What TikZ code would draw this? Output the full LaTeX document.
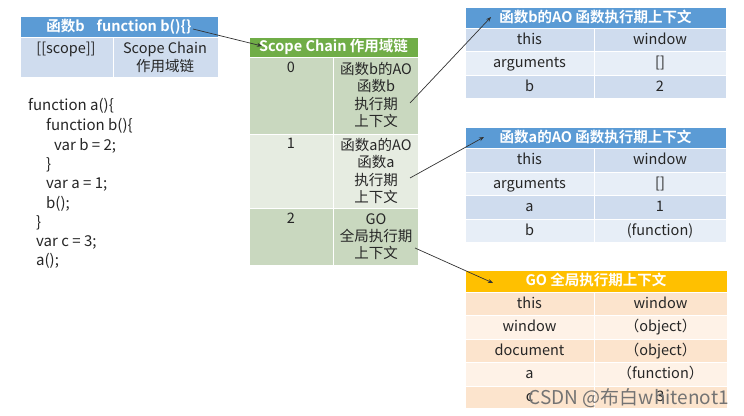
\documentclass[tikz,border=0pt]{standalone}
\usepackage{fontspec}
\setmainfont{Noto Sans CJK SC}[BoldFont={Noto Sans CJK SC Bold}]
\usetikzlibrary{arrows.meta}
\definecolor{bhead}{HTML}{5B9BD5}
\definecolor{bdark}{HTML}{CFDCEE}
\definecolor{blight}{HTML}{E7EEF7}
\definecolor{ghead}{HTML}{70AD47}
\definecolor{gdark}{HTML}{C9D8BF}
\definecolor{glight}{HTML}{E6ECE1}
\definecolor{ohead}{HTML}{FFC000}
\definecolor{odark}{HTML}{FCE4CD}
\definecolor{olight}{HTML}{FEF2E7}
\definecolor{txt}{HTML}{262626}
\newcommand\mkcell[7]{\node[cellbox,fill=#6,minimum width={(#4-#2)*1pt},minimum height={(#5-#3)*1pt}] (#1) at ({(#2+#4)/2},{(#3+#5)/2}) {#7};}
\begin{document}
\begin{tikzpicture}[x=1pt,y=-1pt,
  cellbox/.style={draw=white,line width=1pt,inner sep=0pt,text=txt,text height=11pt,text depth=1.5pt,font=\fontsize{14.5}{17}\selectfont},
  celltext/.style={text=txt,font=\fontsize{14.5}{17.3}\selectfont,align=center,inner sep=0pt,anchor=north},
  codetext/.style={text=txt,font=\fontsize{15}{17}\selectfont,anchor=west,inner sep=0pt},
  link/.style={draw=black!80,line width=0.7pt,-{Stealth[length=5pt,width=4pt]}}]
\useasboundingbox[fill=white] (0,0) rectangle (744,415);
% top-left table
\mkcell{fbh}{20}{16}{218}{37}{bhead}{\color{white}\bfseries 函数b\hspace{12pt}function b()\{\}}
\mkcell{fbs}{20}{37}{113}{77}{bdark}{}
\mkcell{fbc}{113}{37}{218}{77}{bdark}{}
\node[celltext] (fbst) at (66,42) {[[scope]]};
\node[celltext] (fbct) at (165,42) {Scope Chain\\作用域链};
% code
\node[codetext] (c1) at (28,106) {function a()\{};
\node[codetext] (c2) at (46,126) {function b()\{};
\node[codetext] (c3) at (54,146) {var b = 2;};
\node[codetext] (c4) at (46,165) {\}};
\node[codetext] (c5) at (46,185) {var a = 1;};
\node[codetext] (c6) at (46,204) {b();};
\node[codetext] (c7) at (36,223) {\}};
\node[codetext] (c8) at (36,242) {var c = 3;};
\node[codetext] (c9) at (36,261) {a();};
% scope chain table
\mkcell{sch}{249}{37}{418}{57}{ghead}{\color{white}\bfseries Scope Chain 作用域链}
\mkcell{s0a}{249}{57}{333}{134}{gdark}{}
\mkcell{s0b}{333}{57}{418}{134}{gdark}{}
\mkcell{s1a}{249}{134}{333}{208}{glight}{}
\mkcell{s1b}{333}{134}{418}{208}{glight}{}
\mkcell{s2a}{249}{208}{333}{265}{gdark}{}
\mkcell{s2b}{333}{208}{418}{265}{gdark}{}
\node[celltext] (t0a) at (291,62) {0};
\node[celltext] (t0b) at (376,62) {函数b的AO\\函数b\\执行期\\上下文};
\node[celltext] (t1a) at (291,138) {1};
\node[celltext] (t1b) at (376,138) {函数a的AO\\函数a\\执行期\\上下文};
\node[celltext] (t2a) at (291,213) {2};
\node[celltext] (t2b) at (376,213) {GO\\全局执行期\\上下文};
% function b AO
\mkcell{bh}{465}{7}{726}{28}{bhead}{\color{white}\bfseries 函数b的AO 函数执行期上下文}
\mkcell{b1a}{465}{28}{594}{51}{bdark}{this}
\mkcell{b1b}{594}{28}{726}{51}{bdark}{window}
\mkcell{b2a}{465}{51}{594}{75}{blight}{arguments}
\mkcell{b2b}{594}{51}{726}{75}{blight}{[]}
\mkcell{b3a}{465}{75}{594}{98}{bdark}{b}
\mkcell{b3b}{594}{75}{726}{98}{bdark}{2}
% function a AO
\mkcell{ah}{465}{127}{726}{148}{bhead}{\color{white}\bfseries 函数a的AO 函数执行期上下文}
\mkcell{a1a}{465}{148}{594}{172}{bdark}{this}
\mkcell{a1b}{594}{148}{726}{172}{bdark}{window}
\mkcell{a2a}{465}{172}{594}{195}{blight}{arguments}
\mkcell{a2b}{594}{172}{726}{195}{blight}{[]}
\mkcell{a3a}{465}{195}{594}{219}{bdark}{a}
\mkcell{a3b}{594}{195}{726}{219}{bdark}{1}
\mkcell{a4a}{465}{219}{594}{242}{blight}{b}
\mkcell{a4b}{594}{219}{726}{242}{blight}{(function)}
% GO
\mkcell{gh}{465}{270}{727}{292}{ohead}{\color{white}\bfseries GO 全局执行期上下文}
\mkcell{g1a}{465}{292}{594}{315}{odark}{this}
\mkcell{g1b}{594}{292}{727}{315}{odark}{window}
\mkcell{g2a}{465}{315}{594}{339}{olight}{window}
\mkcell{g2b}{594}{315}{727}{339}{olight}{（object）}
\mkcell{g3a}{465}{339}{594}{362}{odark}{document}
\mkcell{g3b}{594}{339}{727}{362}{odark}{（object）}
\mkcell{g4a}{465}{362}{594}{386}{olight}{a}
\mkcell{g4b}{594}{362}{727}{386}{olight}{（function）}
\mkcell{g5a}{465}{386}{594}{408}{odark}{c}
\mkcell{g5b}{594}{386}{727}{408}{odark}{3}
% watermark
\node[text=black!55,font=\fontsize{19}{22}\selectfont,anchor=east,inner sep=0pt] (wm) at (729,398) {CSDN @布白whitenot1};
% arrows
\coordinate (p1s) at (193,29);
\coordinate (p1e) at (262,46);
\coordinate (p2s) at (410,103);
\coordinate (p2e) at (491,17);
\coordinate (p3s) at (410,178);
\coordinate (p3e) at (484,137);
\coordinate (p4s) at (415,248);
\coordinate (p4e) at (493,283);
\draw[link] (p1s) -- (p1e);
\draw[link] (p2s) -- (p2e);
\draw[link] (p3s) -- (p3e);
\draw[link] (p4s) -- (p4e);
\end{tikzpicture}
\end{document}
